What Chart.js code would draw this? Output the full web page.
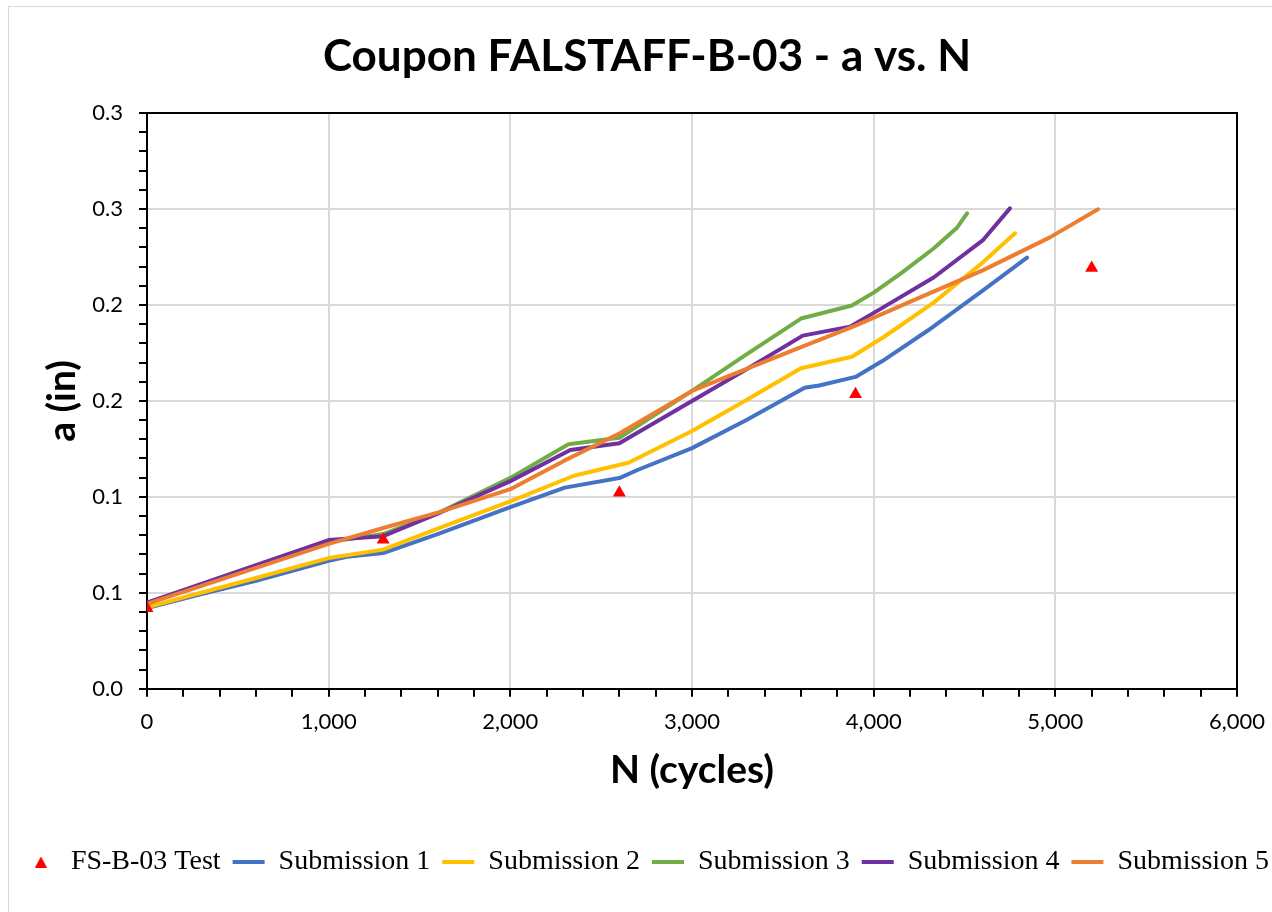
<!DOCTYPE html>
<html>
<head>
<meta charset="utf-8">
<script src="https://cdn.jsdelivr.net/npm/chart.js@4.4.1/dist/chart.umd.min.js"></script>
<style>
    body { margin: 0; background: #fff; overflow: hidden; }
    #frame {
        position: absolute;
        left: 8px;
        top: 6px;
        width: 1400px;
        height: 1000px;
        border: 1px solid #d9d9d9;
    }
    #chart { position: absolute; left: 0; top: 0; }
</style>
</head>
<body>
<div id="frame">
    <canvas id="chart" width="1276" height="890"></canvas>
</div>
<script>
// measured crack length a (in) against cycles N
const TEST_N = [0, 1300, 2600, 3900, 5200];
const TEST_A = [0.0420, 0.0776, 0.1022, 0.1534, 0.2193];

const SUB1_N = [0, 300, 600, 1000, 1100, 1300, 1600, 2000, 2300, 2600, 2700, 3000, 3300, 3620, 3700, 3900, 4050, 4300, 4600, 4844];
const SUB1_A = [0.0420, 0.0494, 0.0563, 0.0667, 0.0688, 0.0707, 0.0806, 0.0946, 0.1048, 0.1098, 0.1140, 0.1254, 0.1400, 0.1568, 0.1580, 0.1625, 0.1709, 0.1868, 0.2075, 0.2247];

const SUB2_N = [0, 600, 1000, 1300, 1600, 2000, 2350, 2650, 3000, 3300, 3600, 3880, 4050, 4330, 4600, 4778];
const SUB2_A = [0.0425, 0.0577, 0.0681, 0.0725, 0.0835, 0.0977, 0.1110, 0.1178, 0.1343, 0.1505, 0.1670, 0.1730, 0.1829, 0.2012, 0.2221, 0.2373];

const SUB3_N = [0, 500, 1000, 1300, 1600, 2000, 2320, 2600, 3000, 3300, 3600, 3880, 4000, 4150, 4330, 4460, 4514];
const SUB3_A = [0.0447, 0.0607, 0.0765, 0.0806, 0.0915, 0.1099, 0.1274, 0.1308, 0.1552, 0.1742, 0.1929, 0.1997, 0.2064, 0.2164, 0.2294, 0.2404, 0.2477];

const SUB4_N = [0, 500, 1000, 1300, 1600, 2000, 2330, 2600, 3000, 3300, 3610, 3870, 4050, 4330, 4600, 4750];
const SUB4_A = [0.0449, 0.0612, 0.0775, 0.0795, 0.0912, 0.1082, 0.1244, 0.1279, 0.1500, 0.1665, 0.1840, 0.1887, 0.1986, 0.2143, 0.2336, 0.2503];

const SUB5_N = [0, 1000, 1300, 1600, 2000, 2300, 2600, 3000, 3300, 3600, 3900, 4240, 4600, 4970, 5235];
const SUB5_A = [0.0443, 0.0755, 0.0838, 0.0918, 0.1040, 0.1190, 0.1330, 0.1552, 0.1667, 0.1780, 0.1892, 0.2033, 0.2180, 0.2352, 0.2498];

// y labels are one-decimal roundings of the 0.05 steps
const Y_TICK_LABELS = ['0.0', '0.1', '0.1', '0.2', '0.2', '0.3', '0.3'];

const GRID_COLOR = '#d9d9d9';
const TICK_FONT = { family: 'Lato', size: 22 };
const AXIS_TITLE_FONT = { family: 'Lato', size: 39, weight: 'bold' };

function pts(ns, as) {
    return ns.map((n, i) => ({ x: n, y: as[i] }));
}

// small red triangle for the legend (pointStyleWidth would stretch the built-in one)
function makeTriangleMark() {
    const c = document.createElement('canvas');
    c.width = 12;
    c.height = 11;
    const g = c.getContext('2d');
    g.fillStyle = '#ff0000';
    g.beginPath();
    g.moveTo(6, 0);
    g.lineTo(12, 11);
    g.lineTo(0, 11);
    g.closePath();
    g.fill();
    return c;
}
const TRIANGLE_MARK = makeTriangleMark();

function lineSet(label, ns, as, color, order) {
    return {
        label: label,
        data: pts(ns, as),
        showLine: true,
        borderColor: color,
        backgroundColor: color,
        borderWidth: 4,
        borderJoinStyle: 'round',
        borderCapStyle: 'round',
        tension: 0,
        pointRadius: 0,
        pointHoverRadius: 0,
        pointStyle: 'line',
        order: order,
    };
}

const datasets = [
    {
        label: 'FS-B-03 Test',
        data: pts(TEST_N, TEST_A),
        showLine: false,
        pointStyle: 'triangle',
        pointRadius: 7.5,
        pointHoverRadius: 7.5,
        backgroundColor: '#ff0000',
        borderColor: '#ff0000',
        borderWidth: 0,
        order: 0,
    },
    lineSet('Submission 1', SUB1_N, SUB1_A, '#4472c4', 5),
    lineSet('Submission 2', SUB2_N, SUB2_A, '#ffc000', 4),
    lineSet('Submission 3', SUB3_N, SUB3_A, '#70ad47', 3),
    lineSet('Submission 4', SUB4_N, SUB4_A, '#7030a0', 2),
    lineSet('Submission 5', SUB5_N, SUB5_A, '#ed7d31', 1),
];

new Chart(document.getElementById('chart'), {
    type: 'scatter',
    data: { datasets: datasets },
    options: {
        responsive: false,
        animation: false,
        layout: { padding: { left: 0, right: 0, top: 0, bottom: 11 } },
        plugins: {
            tooltip: { enabled: false },
            title: {
                display: true,
                text: 'Coupon FALSTAFF-B-03 - a vs. N',
                color: '#000',
                font: { family: 'Lato', size: 44, weight: 'bold' },
                padding: { top: 23.6, bottom: 29.6 },
            },
            legend: {
                position: 'bottom',
                labels: {
                    usePointStyle: true,
                    pointStyleWidth: 32,
                    boxHeight: 9,
                    padding: 12,
                    color: '#000',
                    font: { family: "'Liberation Serif', 'Times New Roman', serif", size: 28 },
                    sort: (a, b) => a.datasetIndex - b.datasetIndex,
                    generateLabels: (chart) => {
                        const items = Chart.defaults.plugins.legend.labels.generateLabels(chart);
                        items.forEach((it) => {
                            if (it.datasetIndex === 0) it.pointStyle = TRIANGLE_MARK;
                        });
                        return items;
                    },
                },
            },
        },
        scales: {
            x: {
                type: 'linear',
                position: 'bottom',
                min: 0,
                max: 6000,
                border: { color: '#000', width: 2 },
                grid: {
                    color: (c) => {
                        if (!c.tick) return 'transparent';
                        const v = c.tick.value;
                        if (v === 0) return 'transparent';
                        if (v === 6000) return '#000';
                        return v % 1000 === 0 ? GRID_COLOR : 'transparent';
                    },
                    lineWidth: 2,
                    tickLength: 8,
                    tickColor: '#000',
                    tickWidth: 2,
                },
                ticks: {
                    stepSize: 200,
                    autoSkip: false,
                    maxRotation: 0,
                    padding: 12,
                    color: '#000',
                    font: TICK_FONT,
                    callback: (v) => (v % 1000 === 0 ? v.toLocaleString('en-US') : ''),
                },
                title: {
                    display: true,
                    text: 'N (cycles)',
                    color: '#000',
                    font: AXIS_TITLE_FONT,
                    padding: { top: 0, bottom: 42 },
                },
            },
            y: {
                type: 'linear',
                position: 'left',
                min: 0,
                max: 0.3,
                afterFit: (scale) => { scale.width = 138; },
                border: { color: '#000', width: 2 },
                grid: {
                    color: (c) => {
                        if (!c.tick) return 'transparent';
                        const i = Math.round(c.tick.value * 100);
                        if (i === 0) return 'transparent';
                        if (i === 30) return '#000';
                        return i % 5 === 0 ? GRID_COLOR : 'transparent';
                    },
                    lineWidth: 2,
                    tickLength: 8,
                    tickColor: '#000',
                    tickWidth: 2,
                },
                ticks: {
                    stepSize: 0.01,
                    autoSkip: false,
                    padding: 16,
                    color: '#000',
                    font: TICK_FONT,
                    callback: (v) => {
                        const i = Math.round(v * 100);
                        return i % 5 === 0 ? Y_TICK_LABELS[i / 5] : '';
                    },
                },
                title: {
                    display: true,
                    text: 'a (in)',
                    color: '#000',
                    font: AXIS_TITLE_FONT,
                    padding: { top: 30, bottom: 0 },
                },
            },
            // right-hand frame of the plot
            y2: {
                type: 'linear',
                position: 'right',
                min: 0,
                max: 1,
                afterFit: (scale) => { scale.width = 48; },
                border: { color: '#000', width: 2 },
                grid: { drawOnChartArea: false, drawTicks: false },
                ticks: { display: false },
            },
        },
    },
});
</script>
</body>
</html>
